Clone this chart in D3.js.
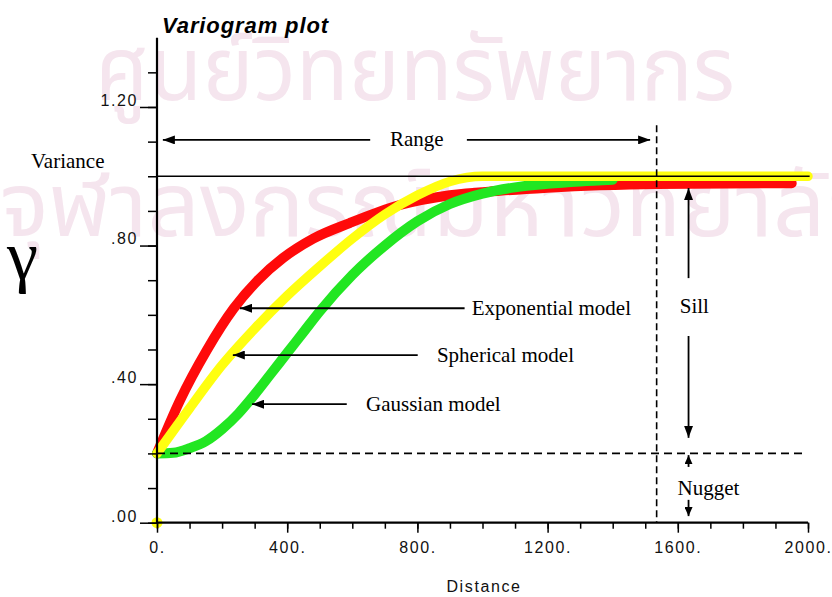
<!DOCTYPE html>
<html>
<head>
<meta charset="utf-8">
<script src="https://cdn.jsdelivr.net/npm/d3@7"></script>
<style>
  html, body { margin: 0; padding: 0; background: #fff; }
  svg { display: block; }
</style>
</head>
<body>
<svg id="chart" width="832" height="597"></svg>
<script>
// Variogram models: distance (lag) vs semivariance
const expDist    = [0, 71, 153, 236, 310, 387, 480, 592, 746, 900, 1053, 1200, 1360, 1535, 1950];
const expGamma   = [0.2, 0.354, 0.498, 0.619, 0.70, 0.764, 0.82, 0.865, 0.917, 0.945, 0.958, 0.967, 0.974, 0.978, 0.98];
const sphDist    = [0, 100, 200, 300, 400, 500, 600, 700, 800, 900, 1000, 2000];
const sphGamma   = [0.2, 0.33, 0.455, 0.56, 0.655, 0.74, 0.82, 0.89, 0.945, 0.985, 1.0, 1.0];
const gauDist    = [0, 50, 100, 150, 200, 250, 300, 350, 400, 450, 500, 600, 700, 800, 900, 1000, 1100, 1200, 1300, 1400];
const gauGamma   = [0.2, 0.202, 0.215, 0.235, 0.27, 0.315, 0.37, 0.43, 0.49, 0.55, 0.61, 0.715, 0.80, 0.87, 0.92, 0.95, 0.968, 0.978, 0.985, 0.99];

const nugget = 0.2;
const sill = 1.0;
const rangeDist = 1535;

const xTickLabels = ["0.", "400.", "800.", "1200.", "1600.", "2000."];
const xLabelValues = [0, 400, 800, 1200, 1600, 2000];
const yTickLabels = [".00", ".40", ".80", "1.20"];
const yLabelValues = [0, 0.4, 0.8, 1.2];

const svg = d3.select("#chart");
const x = d3.scaleLinear().domain([0, 2000]).range([157, 808]);
const y = d3.scaleLinear().domain([0, 1.4]).range([522.7, 37.7]);

// faint background lettering
const wm = svg.append("g").attr("fill", "#f5e5ee")
  .attr("font-family", "'Noto Sans Thai', 'Noto Sans', 'DejaVu Sans', sans-serif");
wm.append("text").attr("x", 95).attr("y", 100).attr("font-size", 90)
  .attr("textLength", 640).attr("lengthAdjust", "spacingAndGlyphs")
  .text("ศูนย์วิทยทรัพยากร");
wm.append("text").attr("x", 0).attr("y", 236).attr("font-size", 90)
  .attr("textLength", 880).attr("lengthAdjust", "spacingAndGlyphs")
  .text("จุฬาลงกรณ์มหาวิทยาลัย");

// model curves
const line = d3.line().x(d => x(d[0])).y(d => y(d[1])).curve(d3.curveMonotoneX);
const series = [
  { dist: expDist, gamma: expGamma, color: "#ff0a0a", w: 10 },
  { dist: gauDist, gamma: gauGamma, color: "#22e622", w: 10 },
  { dist: sphDist, gamma: sphGamma, color: "#ffff10", w: 9.5 }
];
series.forEach(s => {
  svg.append("path")
    .datum(d3.zip(s.dist, s.gamma))
    .attr("d", line)
    .attr("fill", "none")
    .attr("stroke", s.color)
    .attr("stroke-width", s.w)
    .attr("stroke-linecap", "round")
    .attr("stroke-linejoin", "round");
});

// sill (variance) line
svg.append("line")
  .attr("x1", x(0)).attr("x2", x(2005))
  .attr("y1", y(sill)).attr("y2", y(sill))
  .attr("stroke", "#000").attr("stroke-width", 1.3);

// origin marker
svg.append("circle").attr("cx", x(0)).attr("cy", y(0)).attr("r", 5.5).attr("fill", "#ffff10");

// axes
const axisFont = "'Liberation Sans', Arial, sans-serif";
const yMinor = d3.range(0, 1.35, 0.1);
const yAxis = svg.append("g").attr("transform", `translate(${x(0)},0)`)
  .call(d3.axisLeft(y).tickValues(yMinor).tickSize(9).tickFormat(""));
yAxis.select(".domain").remove();
yAxis.selectAll(".tick line").attr("stroke", "#000").attr("stroke-width", 1.5);
const yMajor = svg.append("g").attr("transform", `translate(${x(0)},0)`)
  .call(d3.axisLeft(y).tickValues(yLabelValues).tickSize(17).tickPadding(4)
    .tickFormat((d, i) => yTickLabels[i]));
yMajor.select(".domain").remove();
yMajor.selectAll(".tick line").attr("stroke", "#000").attr("stroke-width", 1.5);
yMajor.selectAll(".tick text")
  .attr("font-family", axisFont).attr("font-size", 16).attr("letter-spacing", "1.6px")
  .attr("fill", "#111").attr("dy", "-0.1em").attr("x", -19);

svg.append("line").attr("x1", x(0)).attr("x2", x(0)).attr("y1", y(1.4)).attr("y2", y(0) + 1)
  .attr("stroke", "#000").attr("stroke-width", 2.2);

const xMinor = d3.range(0, 2001, 100);
const xAxis = svg.append("g").attr("transform", `translate(0,${y(0)})`)
  .call(d3.axisBottom(x).tickValues(xMinor).tickSize(6).tickFormat(""));
xAxis.select(".domain").remove();
xAxis.selectAll(".tick line").attr("stroke", "#000").attr("stroke-width", 1.5);
const xMajor = svg.append("g").attr("transform", `translate(0,${y(0)})`)
  .call(d3.axisBottom(x).tickValues(xLabelValues).tickSize(10).tickPadding(9)
    .tickFormat((d, i) => xTickLabels[i]));
xMajor.select(".domain").remove();
xMajor.selectAll(".tick line").attr("stroke", "#000").attr("stroke-width", 1.5);
xMajor.selectAll(".tick text")
  .attr("font-family", axisFont).attr("font-size", 16).attr("letter-spacing", "1.6px")
  .attr("fill", "#111");
svg.append("line").attr("x1", x(0) - 1).attr("x2", x(2000)).attr("y1", y(0)).attr("y2", y(0))
  .attr("stroke", "#000").attr("stroke-width", 2.2);

// dashed nugget and range lines
svg.append("line")
  .attr("x1", x(0)).attr("x2", x(1985))
  .attr("y1", y(nugget)).attr("y2", y(nugget))
  .attr("stroke", "#000").attr("stroke-width", 1.6).attr("stroke-dasharray", "8,5");
svg.append("line")
  .attr("x1", x(rangeDist)).attr("x2", x(rangeDist))
  .attr("y1", y(1.147)).attr("y2", y(0))
  .attr("stroke", "#000").attr("stroke-width", 1.6).attr("stroke-dasharray", "7,4");

// arrow annotations (distance / semivariance units)
const defs = svg.append("defs");
function marker(id, w, h) {
  defs.append("marker").attr("id", id)
    .attr("viewBox", `0 0 ${w} ${h}`).attr("refX", w).attr("refY", h / 2)
    .attr("markerWidth", w).attr("markerHeight", h)
    .attr("markerUnits", "userSpaceOnUse").attr("orient", "auto")
    .append("path").attr("d", `M0,0L${w},${h / 2}L0,${h}Z`).attr("fill", "#000");
}
marker("head", 12, 9);
marker("headSmall", 9, 8);

const arrows = [
  { from: [655, 1.105], to: [18, 1.105], m: "head" },
  { from: [952, 1.105], to: [1515, 1.105], m: "head" },
  { from: [945, 0.619], to: [255, 0.619], m: "head" },
  { from: [801, 0.484], to: [233, 0.484], m: "head" },
  { from: [583, 0.342], to: [292, 0.342], m: "head" },
  { from: [1633, 0.706], to: [1633, 0.966], m: "head" },
  { from: [1633, 0.539], to: [1633, 0.245], m: "head" },
  { from: [1633, 0.161], to: [1633, 0.195], m: "headSmall" },
  { from: [1633, 0.066], to: [1633, 0.019], m: "headSmall" }
];
arrows.forEach(a => {
  svg.append("line")
    .attr("x1", x(a.from[0])).attr("y1", y(a.from[1]))
    .attr("x2", x(a.to[0])).attr("y2", y(a.to[1]))
    .attr("stroke", "#000").attr("stroke-width", 1.8)
    .attr("marker-end", `url(#${a.m})`);
});

const serif = "'Liberation Serif', 'Times New Roman', serif";
const notes = [
  { t: "Range", d: 798, g: 1.087, anchor: "middle" },
  { t: "Exponential model", d: 967, g: 0.6, anchor: "start" },
  { t: "Spherical model", d: 860, g: 0.465, anchor: "start" },
  { t: "Gaussian model", d: 642, g: 0.323, anchor: "start" },
  { t: "Sill", d: 1606, g: 0.605, anchor: "start" },
  { t: "Nugget", d: 1599, g: 0.08, anchor: "start" }
];
notes.forEach(n => {
  svg.append("text").attr("x", x(n.d)).attr("y", y(n.g))
    .attr("text-anchor", n.anchor)
    .attr("font-family", serif).attr("font-size", 21).attr("fill", "#000")
    .text(n.t);
});

// titles and axis labels
svg.append("text").attr("x", 162).attr("y", 33)
  .attr("font-family", axisFont).attr("font-size", 22).attr("font-weight", "bold")
  .attr("font-style", "italic").attr("letter-spacing", "0.9px").attr("fill", "#000")
  .text("Variogram plot");
svg.append("text").attr("x", 31).attr("y", 168)
  .attr("font-family", serif).attr("font-size", 21).attr("fill", "#000")
  .text("Variance");
svg.append("text").attr("x", 7).attr("y", 279)
  .attr("font-family", serif).attr("font-size", 70).attr("fill", "#000")
  .text("γ");
svg.append("text").attr("x", 484).attr("y", 592).attr("text-anchor", "middle")
  .attr("font-family", axisFont).attr("font-size", 16).attr("letter-spacing", "1.6px")
  .attr("fill", "#111")
  .text("Distance");
</script>
</body>
</html>
